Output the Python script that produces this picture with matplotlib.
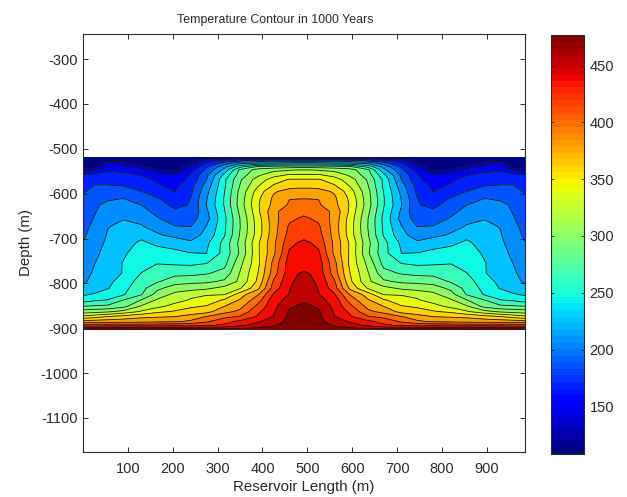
import numpy as np
import matplotlib
matplotlib.use("Agg")
import matplotlib.pyplot as plt
from matplotlib.cm import ScalarMappable
from matplotlib.colors import Normalize

TITLE = "Temperature Contour in 1000 Years"
XLABEL = "Reservoir Length (m)"
YLABEL = "Depth (m)"
X_TICKS = [100, 200, 300, 400, 500, 600, 700, 800, 900]
Y_TICKS = [-300, -400, -500, -600, -700, -800, -900, -1000, -1100]
CB_TICKS = [150, 200, 250, 300, 350, 400, 450]
T_MIN, T_MAX = 108, 477
N_BANDS = 20
LENGTH_HALF = [0, 25, 55, 90, 130, 165, 205, 240, 275, 315, 350, 390, 425, 460, 478, 492]
DEPTHS = [-520, -526, -532, -540, -547, -558, -569, -581, -595, -610, -625, -640, -655, -673, -692,
          -710, -733, -755, -777, -796, -811, -825, -837, -851, -863, -874, -885, -894, -903]
TEMP_HALF = [
    [108,108,108,108,108,108,108,108,115,125,125,125,125,125,125,125],
    [108,112,118,115,110,108,108,112,152,168,178,185,190,190,190,190],
    [110,115,148,135,115,110,108,124,165,190,215,220,222,225,226,226],
    [113,118,153,150,130,118,112,147,178,213,250,278,283,285,286,286],
    [130,140,160,158,150,128,118,155,186,224,278,300,305,309,311,311],
    [166,168,172,168,162,151,146,165,196,242,283,307,323,331,331,331],
    [172,177,178,175,170,160,153,168,200,252,290,320,338,350,350,350],
    [177,182,182,181,175,165,158,176,207,252,293,327,349,358,360,360],
    [180,187,190,188,182,172,163,178,213,255,298,338,364,373,373,373],
    [184,190,197,200,193,183,170,182,217,257,300,344,370,384,384,384],
    [186,197,205,208,200,190,177,183,219,257,301,346,372,387,390,391],
    [188,199,207,214,207,195,185,184,215,254,297,344,380,396,399,400],
    [191,201,210,218,214,202,190,192,212,251,293,340,378,399,403,405],
    [194,205,218,222,220,212,201,200,219,252,292,338,377,406,411,412],
    [197,208,220,227,233,221,213,210,224,254,294,339,378,410,416,418],
    [201,211,222,231,240,234,231,222,233,262,298,345,381,416,422,424],
    [204,214,226,235,245,244,241,238,237,262,295,345,381,425,427,428],
    [208,218,228,238,248,255,253,252,255,268,306,343,391,430,431,432],
    [212,221,230,238,256,263,268,268,272,280,312,348,394,433,439,442],
    [216,224,232,246,263,272,285,288,289,296,315,352,406,436,444,447],
    [224,229,236,250,268,288,302,304,308,317,328,362,412,439,448,451],
    [235,239,248,254,273,300,316,325,328,329,358,384,424,441,452,455],
    [246,252,256,274,293,313,322,331,337,350,368,395,432,446,455,457],
    [274,276,278,286,313,324,336,345,349,366,379,408,435,456,459,461],
    [302,304,308,317,332,344,350,355,360,379,389,418,438,461,464,465],
    [333,340,348,355,362,364,366,374,385,398,405,424,441,463,467,468],
    [374,375,376,377,378,380,382,388,400,416,425,438,450,464,469,470],
    [415,415,416,416,416,417,418,419,420,425,438,446,457,468,472,473],
    [466,466,466,466,466,466,466,466,466,466,466,468,472,476,477,477],
]

plt.rcParams["font.family"] = ["Liberation Sans", "DejaVu Sans"]
plt.rcParams["font.size"] = 10
plt.rcParams["axes.unicode_minus"] = False
INK = "#2a2a2a"
W, H = 627, 497
fig = plt.figure(figsize=(W/100, H/100), dpi=100, facecolor="white")
ax = fig.add_axes([83/W, 1-452/H, (525-83)/W, (452-34)/H])
half = np.array(TEMP_HALF, dtype=float)
lx = np.array(LENGTH_HALF, dtype=float)
x = np.concatenate([lx, 985 - lx[-2::-1]])
z = np.hstack([half, half[:, -2::-1]])
y = np.array(DEPTHS, dtype=float)
levels = np.linspace(T_MIN, T_MAX, N_BANDS + 1)
colors = [plt.cm.jet(k / (N_BANDS - 1)) for k in range(N_BANDS)]
ax.contourf(x, y, z, levels=levels, colors=colors, extend="neither")
ax.contour(x, y, z, levels=levels[1:-1], colors="#1a1a1a", linewidths=0.6)
ax.set_xlim(0, 985)
ax.set_ylim(-1176, -244)
ax.set_xticks(X_TICKS)
ax.set_yticks(Y_TICKS)
ax.tick_params(direction="in", length=3.5, width=0.7, top=True, right=True, labelsize=10.5,
               color=INK, labelcolor=INK)
ax.tick_params(axis="x", pad=7)
for s in ax.spines.values():
    s.set_linewidth(0.8)
    s.set_color(INK)
ax.set_title(TITLE, fontsize=8.9, pad=8, x=0.434, color=INK)
ax.set_xlabel(XLABEL, fontsize=10.8, labelpad=3, color=INK)
ax.set_ylabel(YLABEL, fontsize=10.8, labelpad=5, color=INK)

cax = fig.add_axes([551/W, 1-454/H, (584-551)/W, (454-35)/H])
sm = ScalarMappable(norm=Normalize(T_MIN, T_MAX), cmap=plt.get_cmap("jet", 64))
cb = fig.colorbar(sm, cax=cax)
cb.set_ticks(CB_TICKS)
cb.ax.tick_params(direction="in", length=2.5, width=0.6, left=True, right=True, labelsize=10.5,
                  pad=4, color=INK, labelcolor=INK)
cb.outline.set_linewidth(0.8)
cb.outline.set_edgecolor(INK)
fig.savefig("out.png", dpi=100)
